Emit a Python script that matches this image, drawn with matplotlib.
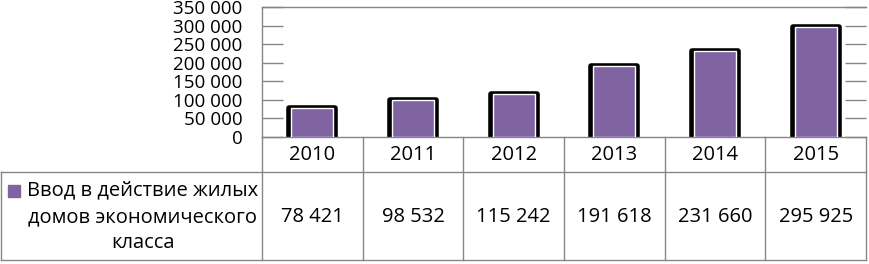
import matplotlib
matplotlib.use("Agg")
import matplotlib.pyplot as plt
import matplotlib.transforms as mtransforms
from matplotlib.patches import Rectangle

plt.rcParams['font.family'] = ['Open Sans', 'DejaVu Sans']

# ---- data ----
years = ["2010", "2011", "2012", "2013", "2014", "2015"]
values = [78421, 98532, 115242, 191618, 231660, 295925]
series_label = "Ввод в действие жилых\nдомов экономического\nкласса"
yticks = [0, 50000, 100000, 150000, 200000, 250000, 300000, 350000]

W, H = 870, 264
PURPLE = "#8064A2"
GRID = "#868686"

def fmt(v):
    return f"{v:,}".replace(",", " ")

fig = plt.figure(figsize=(W / 100, H / 100), dpi=100)

# overlay axes in pixel coordinates for the data table
ax0 = fig.add_axes([0, 0, 1, 1])
ax0.set_xlim(0, W)
ax0.set_ylim(H, 0)
ax0.axis("off")

# plot area
L, R, T, B = 262, 866, 7, 137
ax = fig.add_axes([L / W, 1 - B / H, (R - L) / W, (B - T) / H])
ax.patch.set_alpha(0)
n = len(years)
x = list(range(n))
ax.set_xlim(-0.5, n - 0.5)
ax.set_ylim(0, 350000)

ax.bar(x, values, width=0.46, color="black", edgecolor="black",
       linewidth=4, joinstyle="round", zorder=2)
ax.bar(x, values, width=0.42, color=PURPLE, edgecolor="white",
       linewidth=1, zorder=3)

ax.set_yticks(yticks)
ax.set_yticklabels([fmt(v) for v in yticks], fontsize=13.5, color="black")
ax.tick_params(axis="y", direction="in", length=15, width=1, color=GRID,
               pad=14, left=True, right=True)
ax.set_xticks([])
for s in ["left", "top", "bottom"]:
    ax.spines[s].set_color(GRID)
    ax.spines[s].set_linewidth(1)
ax.spines["right"].set_visible(False)

# ---- data table ----
tr = mtransforms.blended_transform_factory(ax.transData, ax0.transData)
row1_top, row2_top, tbl_bot = 137, 172, 260
for i in range(n + 1):
    ax0.plot([i - 0.5, i - 0.5], [row1_top, tbl_bot], color=GRID, lw=1,
             transform=tr, clip_on=False)
ax0.plot([0.5, R], [row2_top, row2_top], color=GRID, lw=1, clip_on=False)
ax0.plot([0.5, R], [tbl_bot, tbl_bot], color=GRID, lw=1, clip_on=False)
ax0.plot([0.5, 0.5], [row2_top, tbl_bot], color=GRID, lw=1, clip_on=False)

for i, (yr, v) in enumerate(zip(years, values)):
    ax0.text(i, (row1_top + row2_top) / 2 + 1, yr, transform=tr,
             ha="center", va="center", fontsize=14.5)
    ax0.text(i, (row2_top + tbl_bot) / 2 + 1, fmt(v), transform=tr,
             ha="center", va="center", fontsize=14.5)

ax0.add_patch(Rectangle((8, 185), 12, 12, color=PURPLE))
ax0.text(143, 217, series_label, ha="center", va="center",
         multialignment="center", fontsize=14.5, linespacing=1.42)

fig.savefig("out.png", dpi=100)
